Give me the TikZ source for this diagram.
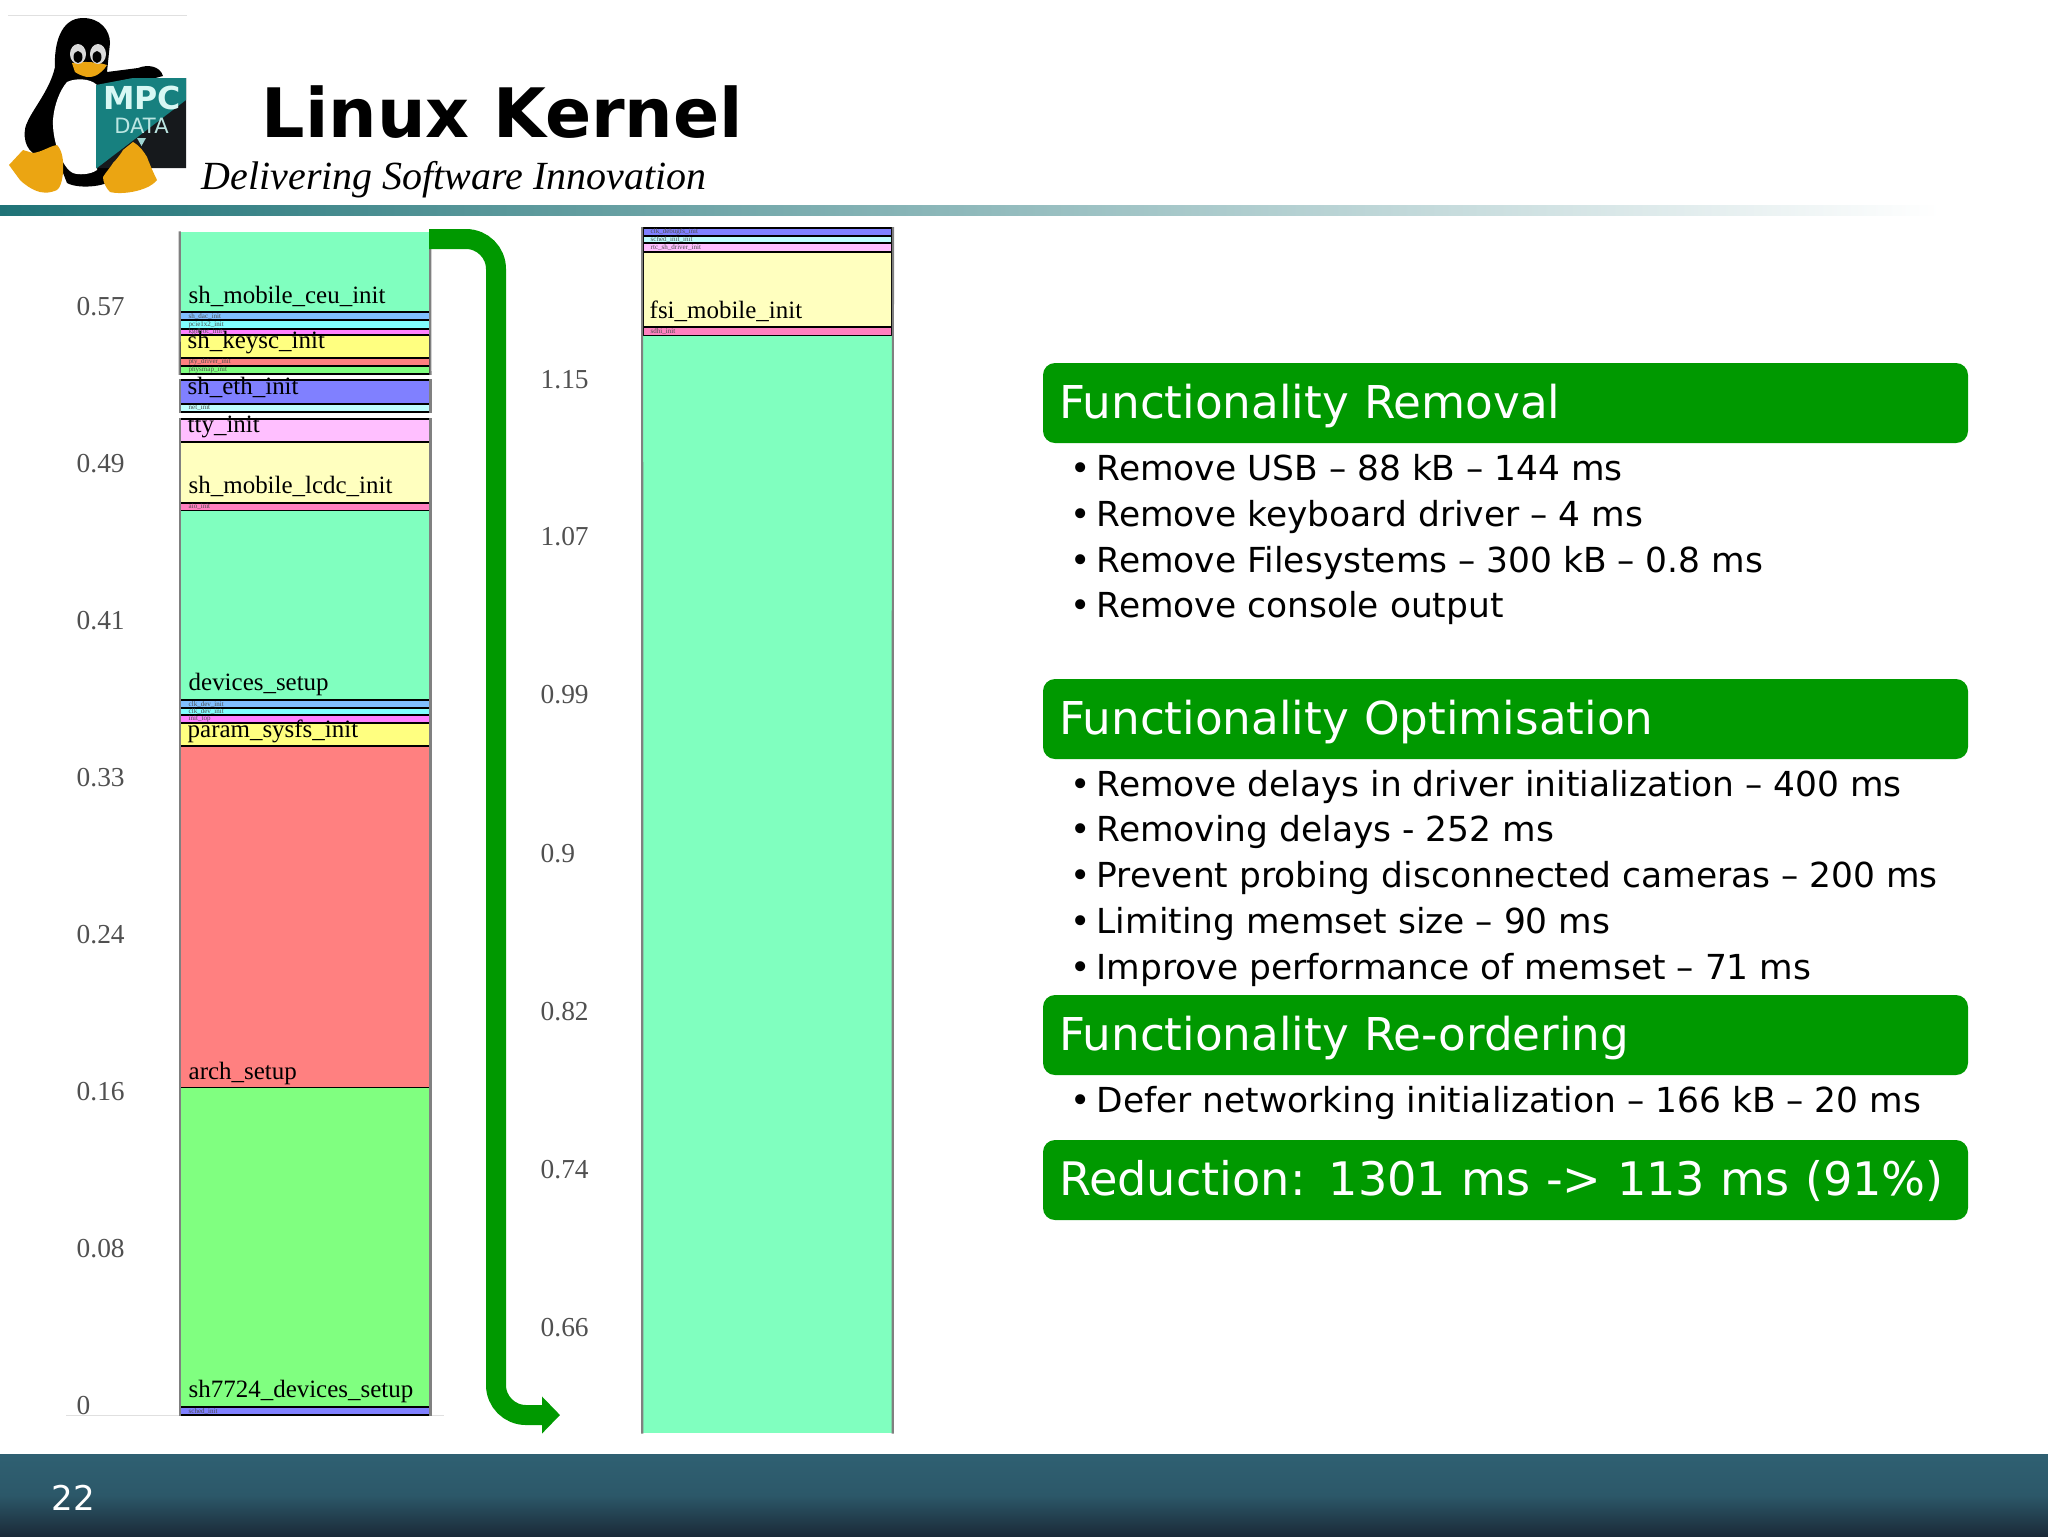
\documentclass[tikz,border=0pt]{standalone}
\usepackage{fontspec}
\setmainfont{DejaVu Sans}
\newfontfamily\chartfont{Liberation Serif}
\usetikzlibrary{shapes,arrows.meta}

\definecolor{panelgreen}{HTML}{009900}
\definecolor{barteal}{HTML}{1F7377}
\definecolor{logoteal}{HTML}{17807F}
\definecolor{logodark}{HTML}{16191C}
\definecolor{logotext}{HTML}{D8F8F4}
\definecolor{footertop}{HTML}{2F6072}
\definecolor{footermid}{HTML}{2C5869}
\definecolor{footerbot}{HTML}{1B2A38}
\definecolor{axisgrey}{HTML}{505050}
\definecolor{barside}{HTML}{808080}
\definecolor{tuxyellow}{HTML}{EBA512}

\definecolor{cAqua}{HTML}{80FFBF}
\definecolor{cSky}{HTML}{80BFFF}
\definecolor{cCyan}{HTML}{80FFFF}
\definecolor{cMagenta}{HTML}{FF80FF}
\definecolor{cYellow}{HTML}{FFFF80}
\definecolor{cRed}{HTML}{FF8080}
\definecolor{cGreen}{HTML}{80FF80}
\definecolor{cBlue}{HTML}{8080FF}
\definecolor{cPaleCyan}{HTML}{BFFFFF}
\definecolor{cPink}{HTML}{FFBFFF}
\definecolor{cPaleYellow}{HTML}{FFFFBF}
\definecolor{cHotPink}{HTML}{FF80BF}

\newcommand{\bul}{\llap{•\hspace{0.6mm}}}

\tikzset{
  barfill/.style={rectangle,inner sep=0pt,minimum width=24.9mm,fill=#1},
  barbox/.style={barfill=#1,draw=black,line width=0.18mm},
  barlabel/.style={anchor=base west,inner sep=0pt,font=\chartfont\fontsize{7.1}{8}\selectfont},
  tinylabel/.style={anchor=west,inner sep=0pt,text=black!70,font=\chartfont\fontsize{2}{2}\selectfont},
  axislabel/.style={anchor=base west,inner sep=0pt,text=axisgrey,font=\chartfont\fontsize{7.8}{9}\selectfont},
  sideline/.style={draw=barside,line width=0.22mm},
  panelbox/.style={rectangle,rounded corners=1.2mm,fill=panelgreen,text=white,minimum width=92.5mm,minimum height=8mm,
    inner xsep=1.6mm,inner ysep=0pt,text width=89.3mm,text height=3.6mm,text depth=0.6mm,align=left,font=\fontsize{12.88}{14}\selectfont},
  itemline/.style={anchor=base west,inner sep=0pt,font=\fontsize{9.8}{12}\selectfont}
}

\begin{document}
\begin{tikzpicture}[x=0.1mm,y=-0.1mm]
\useasboundingbox (0,0) rectangle (2048,1536);

% logo
\draw [black!12,line width=0.1mm] (8,15) -- (187,15);
\fill [black] (83,18) .. controls (100,18) and (110,30) .. (110,43) -- (107,72) -- (138,68) .. controls (148,64) and (160,66) .. (163,76) -- (140,82) -- (113,177)
  .. controls (112,186) and (80,190) .. (67,183) -- (60,165) -- (33,153) .. controls (22,145) and (24,128) .. (27,123)
  .. controls (32,110) and (50,90) .. (55,67) .. controls (54,45) and (60,18) .. (83,18) -- cycle;
\fill [white] (67,82) .. controls (75,78) and (90,78) .. (97,85) -- (97,170) .. controls (90,175) and (78,175) .. (73,173) .. controls (62,168) and (52,140) .. (53,120) .. controls (54,105) and (60,90) .. (67,82) -- cycle;
\fill [logodark] (96,85) -- (133,78) -- (186,78) -- (186,168) -- (96,168) -- cycle;
\fill [logoteal] (96,85) -- (133,78) -- (186,78) -- (186,100) -- (97,168) -- (96,168) -- cycle;
\fill [tuxyellow] (9,165) -- (23,150) -- (33,153) .. controls (42,152) and (50,146) .. (57,145) .. controls (62,150) and (64,160) .. (63,173)
  .. controls (62,182) and (60,188) .. (57,190) .. controls (50,193) and (46,193) .. (40,192) .. controls (32,190) and (24,184) .. (20,180) -- cycle;
\fill [tuxyellow] (133,142) .. controls (140,146) and (144,152) .. (147,157) .. controls (150,165) and (154,174) .. (157,180)
  .. controls (152,186) and (146,188) .. (140,190) .. controls (130,193) and (118,194) .. (110,192) .. controls (106,188) and (103,182) .. (103,177)
  .. controls (106,172) and (110,168) .. (113,163) .. controls (118,158) and (122,152) .. (123,150) -- cycle;
\fill [tuxyellow] (72,63) .. controls (84,61) and (98,62) .. (107,65) .. controls (104,70) and (100,73) .. (97,75) .. controls (93,77) and (90,77) .. (87,77) .. controls (82,76) and (78,74) .. (75,72) -- cycle;
\fill [white!85!black] (78,54) ellipse [x radius=8,y radius=10];
\fill [white!85!black] (98,54) ellipse [x radius=8,y radius=10];
\fill [black] (78,57) ellipse [x radius=4.5,y radius=6];
\fill [black] (97,57) ellipse [x radius=4.5,y radius=6];
\node (logompc) at (142,97.5) [inner sep=0pt,text=logotext,font=\bfseries\fontsize{9}{10}\selectfont] {MPC};
\node (logodata) at (141.5,125.5) [inner sep=0pt,text=logotext!85!logoteal,font=\fontsize{6}{7}\selectfont] {DATA};
\fill [logotext!70!logoteal] (137,138) -- (146,138) -- (141.5,146) -- cycle;

% header
\node (title) at (261,137) [anchor=base west,inner sep=0pt,font=\bfseries\fontsize{19.4}{22}\selectfont] {Linux Kernel};
\node (slogan) at (201,189) [anchor=base west,inner sep=0pt,font=\chartfont\itshape\fontsize{11.37}{13}\selectfont] {Delivering Software Innovation};
\node (headerbar) at (970,210) [rectangle,inner sep=0pt,minimum width=194mm,minimum height=1mm,left color=barteal,right color=white] {};

% footer
\node (footer) at (1024,1495) [rectangle,inner sep=0pt,minimum width=204.8mm,minimum height=8.2mm,top color=footertop,bottom color=footerbot,middle color=footermid] {};
\node (pagenum) at (51,1510) [anchor=base west,inner sep=0pt,text=white,font=\fontsize{9.7}{11}\selectfont] {22};

% left chart
\draw [black!12,line width=0.1mm] (66,1415) -- (444,1415);
\node (ceu) at (305,272) [barfill=cAqua,minimum height=8mm] {};
\node (dac) at (305,316) [barbox=cSky,minimum height=0.8mm] {};
\node (pcie) at (305,324.5) [barbox=cCyan,minimum height=0.9mm] {};
\node (kgdb) at (305,332) [barbox=cMagenta,minimum height=0.6mm] {};
\node (keysc) at (305,346.5) [barbox=cYellow,minimum height=2.3mm] {};
\node (pty) at (305,362) [barbox=cRed,minimum height=0.8mm] {};
\node (physmap) at (305,370) [barbox=cGreen,minimum height=0.8mm] {};

\node (eth) at (305,392) [barbox=cBlue,minimum height=2.4mm] {};
\node (netw) at (305,408) [barbox=cPaleCyan,minimum height=0.8mm] {};

\node (tty) at (305,430.5) [barbox=cPink,minimum height=2.3mm] {};
\node (lcdc) at (305,472.5) [barbox=cPaleYellow,minimum height=6.1mm] {};
\node (aio) at (305,507) [barbox=cHotPink,minimum height=0.8mm] {};
\node (devices) at (305,605) [barfill=cAqua,minimum height=18.9mm] {};
\node (clkdev) at (305,704) [barbox=cSky,minimum height=0.8mm] {};
\node (clkdevb) at (305,711.5) [barbox=cCyan,minimum height=0.7mm] {};
\node (inittop) at (305,719) [barbox=cMagenta,minimum height=0.8mm] {};
\node (sysfs) at (305,734.5) [barbox=cYellow,minimum height=2.3mm] {};
\node (arch) at (305,917) [barbox=cRed,minimum height=34.2mm] {};
\node (sh7724) at (305,1247.5) [barfill=cGreen,minimum height=31.9mm] {};
\node (sched) at (305,1411) [barbox=cBlue,minimum height=0.8mm] {};

\draw [sideline] (ceu.north west) -- (physmap.south west) (ceu.north east) -- (physmap.south east);
\draw [sideline] (eth.north west) -- (netw.south west) (eth.north east) -- (netw.south east);
\draw [sideline] (tty.north west) -- (sched.south west) (tty.north east) -- (sched.south east);

\node (lceu) at (188,303) [barlabel] {sh\_mobile\_ceu\_init};
\node (lkeysc) at (187,348) [barlabel] {sh\_keysc\_init};
\node (leth) at (187,394) [barlabel] {sh\_eth\_init};
\node (ltty) at (187,432) [barlabel] {tty\_init};
\node (llcdc) at (188,493) [barlabel] {sh\_mobile\_lcdc\_init};
\node (ldevices) at (188,690) [barlabel] {devices\_setup};
\node (lsysfs) at (187,737) [barlabel] {param\_sysfs\_init};
\node (larch) at (188,1079) [barlabel] {arch\_setup};
\node (lsh7724) at (188,1397) [barlabel] {sh7724\_devices\_setup};

\node (tdac) at (188,316) [tinylabel] {sh\_dac\_init};
\node (tpcie) at (188,324.5) [tinylabel] {pcie1x2\_init};
\node (tkgdb) at (188,332) [tinylabel] {kgdboc\_init};
\node (tpty) at (188,362) [tinylabel] {pty\_driver\_init};
\node (tphysmap) at (188,370) [tinylabel] {physmap\_init};
\node (tnetw) at (188,408) [tinylabel] {net\_init};
\node (taio) at (188,507) [tinylabel] {aio\_init};
\node (tclkdev) at (188,704) [tinylabel] {clk\_dev\_init};
\node (tclkdevb) at (188,711.5) [tinylabel] {clk\_dev\_init};
\node (tinittop) at (188,719) [tinylabel] {init\_top};
\node (tsched) at (188,1411) [tinylabel] {sched\_init};

\node (a057) at (76,315) [axislabel] {0.57};
\node (a049) at (76,472) [axislabel] {0.49};
\node (a041) at (76,629) [axislabel] {0.41};
\node (a033) at (76,786) [axislabel] {0.33};
\node (a024) at (76,943) [axislabel] {0.24};
\node (a016) at (76,1100) [axislabel] {0.16};
\node (a008) at (76,1257) [axislabel] {0.08};
\node (a000) at (76,1414) [axislabel] {0};

% right chart
\node (rclk) at (767.5,232) [barbox=cBlue,minimum height=0.8mm] {};
\node (rsched) at (767.5,239.5) [barbox=cPaleCyan,minimum height=0.7mm] {};
\node (rrtc) at (767.5,247.5) [barbox=cPink,minimum height=0.9mm] {};
\node (rfsi) at (767.5,289.5) [barbox=cPaleYellow,minimum height=7.5mm] {};
\node (rsdhi) at (767.5,331.5) [barbox=cHotPink,minimum height=0.9mm] {};
\node (rrest) at (767.5,884.5) [barfill=cAqua,minimum height=109.7mm] {};
\draw [sideline] (rclk.north west) -- (rrest.south west) (rclk.north east) -- (rrest.south east);

\node (lfsi) at (649,318) [barlabel] {fsi\_mobile\_init};
\node (tclk) at (650,232) [tinylabel] {clk\_debugfs\_init};
\node (tsch) at (650,239.5) [tinylabel] {sched\_init\_init};
\node (trtc) at (650,247.5) [tinylabel] {rtc\_sh\_driver\_init};
\node (tsdhi) at (650,331.5) [tinylabel] {sdhi\_init};

\node (a115) at (540,388) [axislabel] {1.15};
\node (a107) at (540,545) [axislabel] {1.07};
\node (a099) at (540,703) [axislabel] {0.99};
\node (a09) at (540,862) [axislabel] {0.9};
\node (a082) at (540,1020) [axislabel] {0.82};
\node (a074) at (540,1178) [axislabel] {0.74};
\node (a066) at (540,1336) [axislabel] {0.66};

% arrow between the charts
\coordinate (arrowstart) at (429,239);
\coordinate (arrowbend) at (496,800);
\coordinate (arrowend) at (560,1415);
\draw [-{Triangle[length=1.8mm,width=3.6mm]},draw=panelgreen,line width=2mm,rounded corners=3mm] (arrowstart) -| (arrowbend) |- (arrowend);

% right column
\node (removal) at (1505.5,403) [panelbox] {Functionality Removal};
\node (r1) at (1096,480) [itemline] {\bul Remove USB – 88 kB – 144 ms};
\node (r2) at (1096,526) [itemline] {\bul Remove keyboard driver – 4 ms};
\node (r3) at (1096,572) [itemline] {\bul Remove Filesystems – 300 kB – 0.8 ms};
\node (r4) at (1096,617) [itemline] {\bul Remove console output};

\node (optimisation) at (1505.5,719) [panelbox] {Functionality Optimisation};
\node (o1) at (1096,796) [itemline] {\bul Remove delays in driver initialization – 400 ms};
\node (o2) at (1096,841) [itemline] {\bul Removing delays - 252 ms};
\node (o3) at (1096,887) [itemline] {\bul Prevent probing disconnected cameras – 200 ms};
\node (o4) at (1096,933) [itemline] {\bul Limiting memset size – 90 ms};
\node (o5) at (1096,979) [itemline] {\bul Improve performance of memset – 71 ms};

\node (reordering) at (1505.5,1035) [panelbox] {Functionality Re-ordering};
\node (d1) at (1096,1112) [itemline] {\bul Defer networking initialization – 166 kB – 20 ms};

\node (reduction) at (1505.5,1180) [panelbox,font=\fontsize{13.15}{15}\selectfont] {Reduction: 1301 ms -> 113 ms (91\%)};

\end{tikzpicture}
\end{document}
